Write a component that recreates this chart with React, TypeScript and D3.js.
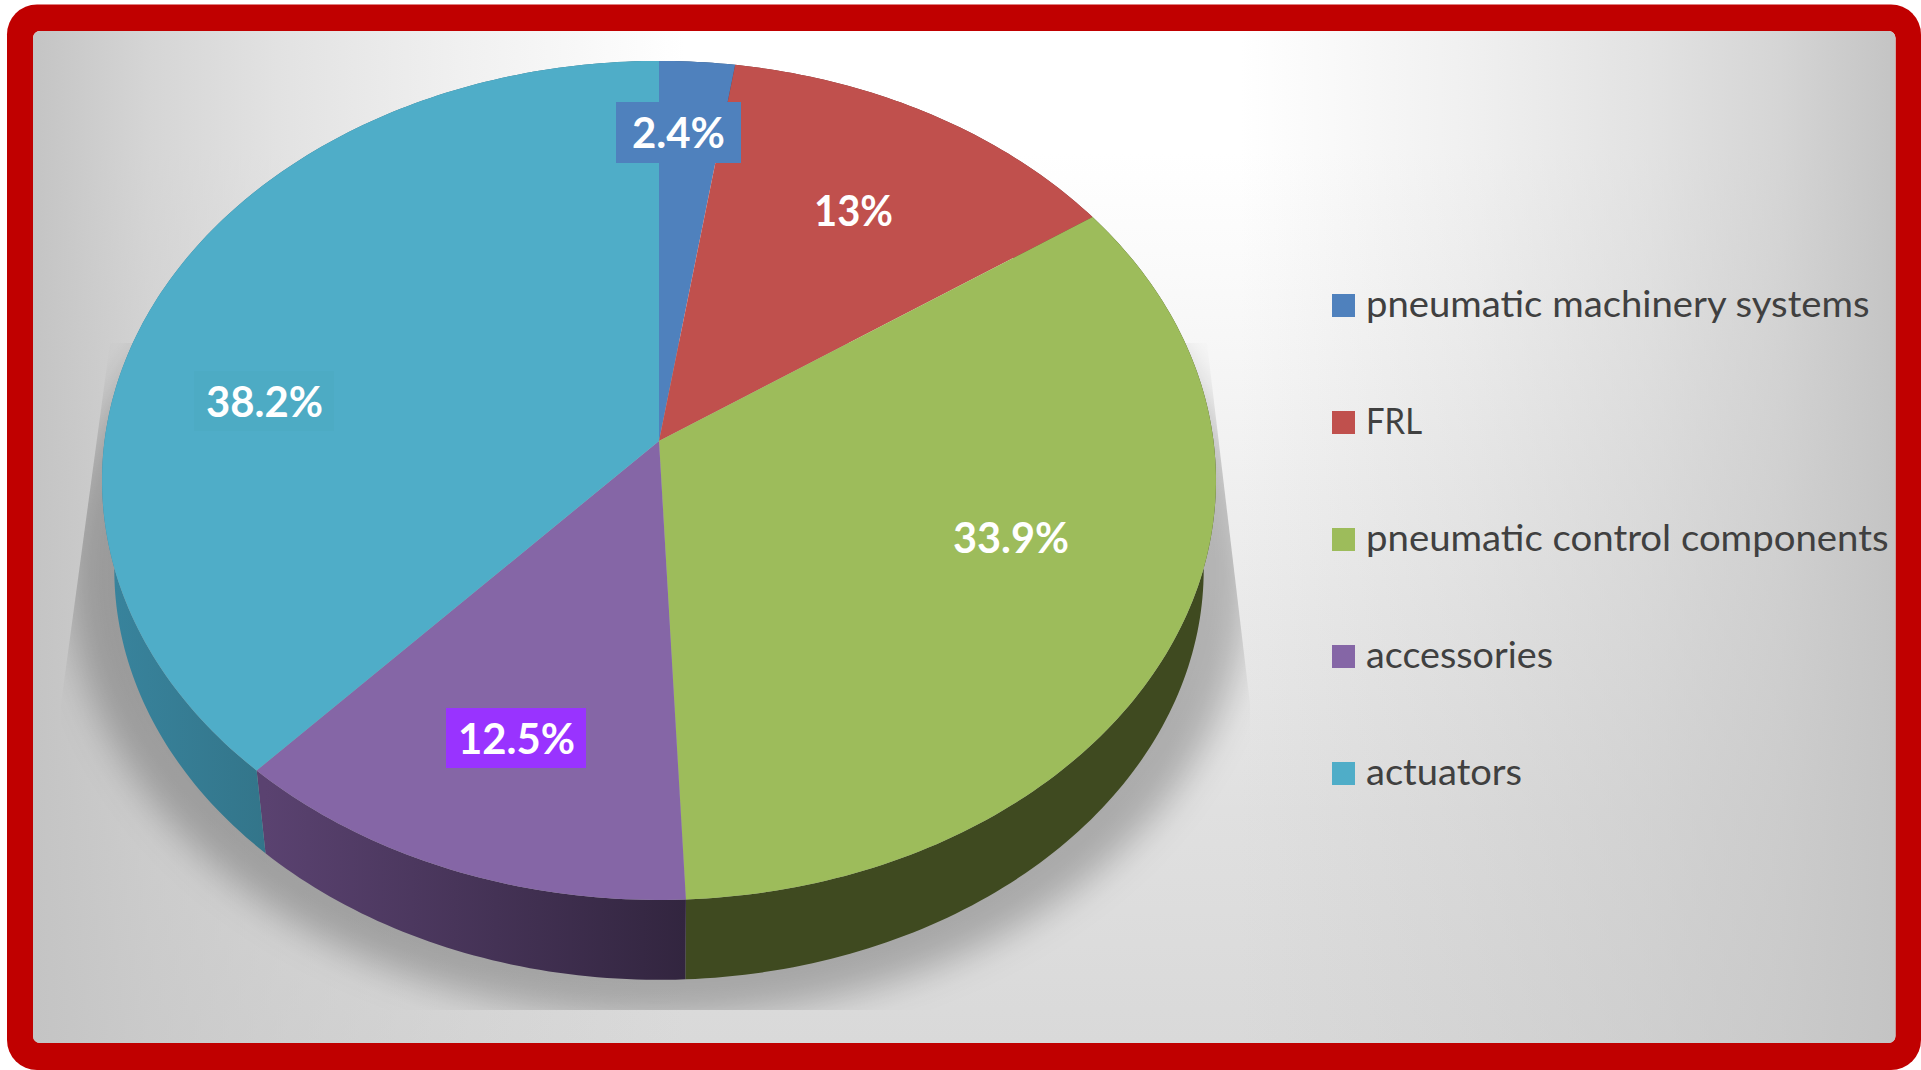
import React from "react";
import * as d3 from "d3";

const categories = ["pneumatic machinery systems", "FRL", "pneumatic control components", "accessories", "actuators"];
const shares = [2.4, 13, 33.9, 12.5, 38.2];
const labels = ["2.4%", "13%", "33.9%", "12.5%", "38.2%"];
const topColors = ["#4f81bd", "#c0504d", "#9dbc5b", "#8566a6", "#4fadc8"];
const wallDark = ["#2f4d71", "#73302e", "#3f4a20", "#32253f", "#33758a"];
const wallLight = ["#2f4d71", "#73302e", "#3f4a20", "#5a4270", "#38839c"];

// Layout
const W = 1921, H = 1070;
const apex = { x: 659, y: 441 };
const A = 554.5, B = 415.8, K = 0.094; // perspective projection of the disc
const rimScale = 0.978, rimDrop = 90;
const labelBoxes = [
  { x: 616, y: 102, w: 125, h: 61, fill: "#4f81bd", tx: 632, tw: 93, by: 148 },
  { x: 0, y: 0, w: 0, h: 0, fill: "none", tx: 814, tw: 79, by: 226 },
  { x: 0, y: 0, w: 0, h: 0, fill: "none", tx: 953, tw: 116, by: 553 },
  { x: 446, y: 708, w: 140, h: 60, fill: "#9933ff", tx: 458, tw: 117, by: 754 },
  { x: 194, y: 371, w: 140, h: 60, fill: "#4dabc4", tx: 206, tw: 117, by: 417 },
];
const legendTextWidths = [503.5, 56, 522.5, 187, 156];
const edgeStops = [
  [0, 1], [0.062, 0.71], [0.132, 0.49], [0.23, 0.25], [0.35, 0],
  [0.648, 0], [0.77, 0.25], [0.868, 0.49], [0.938, 0.71], [1, 1],
];

const project = (angle: number, scale = 1, drop = 0): [number, number] => {
  const u = Math.sin(angle), v = Math.cos(angle), d = 1 + K * v;
  return [apex.x + (scale * A * u) / d, apex.y + (-scale * B * v) / d + drop];
};

const arcs = d3.pie<number>().sort(null).value((d) => d)(shares);
const line = d3.line();
const sample = (a: d3.PieArcDatum<number>, scale = 1, drop = 0) => {
  const n = Math.max(4, Math.ceil((a.endAngle - a.startAngle) * 60));
  return d3.range(n + 1).map((i) => project(a.startAngle + ((a.endAngle - a.startAngle) * i) / n, scale, drop));
};
const topPath = (a: d3.PieArcDatum<number>) => line([[apex.x, apex.y], ...sample(a)]) + "Z";
const wallPath = (a: d3.PieArcDatum<number>) =>
  line([...sample(a), ...sample(a, rimScale, rimDrop).reverse()]) + "Z";
const disc = d3.range(0, 361, 2).map((deg) => project((deg * Math.PI) / 180, 1.06, 90));
const legendY = d3.scalePoint<string>().domain(categories).range([305.5, 773.5]);

export default function App() {
  return (
    <svg width={W} height={H} viewBox={`0 0 ${W} ${H}`} style={{ position: "absolute", left: 0, top: 0, display: "block" }}>
      <defs>
        <linearGradient id="bgY" gradientUnits="userSpaceOnUse" x1={0} x2={0} y1={31} y2={1043}>
          <stop offset="0" stopColor="#ffffff" />
          <stop offset="0.12" stopColor="#ffffff" />
          <stop offset="0.24" stopColor="#fafafa" />
          <stop offset="0.46" stopColor="#efefef" />
          <stop offset="0.77" stopColor="#e0e0e0" />
          <stop offset="1" stopColor="#d9d9d9" />
        </linearGradient>
        <linearGradient id="bgX" gradientUnits="userSpaceOnUse" x1={33} x2={1895} y1={0} y2={0}>
          {edgeStops.map(([o, a]) => (
            <stop key={o} offset={o} stopColor="#c4c4c4" stopOpacity={a} />
          ))}
        </linearGradient>
        <filter id="blur" x="-20%" y="-20%" width="140%" height="140%">
          <feGaussianBlur stdDeviation="18" />
        </filter>
        <clipPath id="shadowClip">
          <polygon points="110,343 1207,343 1250,704 1250,1010 61,1010 61,704" />
        </clipPath>
        {arcs.map((a, i) => {
          const [x1, x2] = d3.extent(sample(a, rimScale, rimDrop).filter((p) => p[1] > 480), (p) => p[0]);
          return (
            <linearGradient key={i} id={`wall${i}`} gradientUnits="userSpaceOnUse" x1={x1 ?? 0} x2={x2 ?? 1} y1={0} y2={0}>
              <stop offset="0" stopColor={wallLight[i]} />
              <stop offset="1" stopColor={wallDark[i]} />
            </linearGradient>
          );
        })}
      </defs>
      <rect x={7} y={4.5} width={1914} height={1065.5} rx={30} fill="#c00000" />
      <rect x={33} y={31} width={1862.5} height={1012} rx={7} fill="url(#bgY)" />
      <rect x={33} y={31} width={1862.5} height={1012} rx={7} fill="url(#bgX)" />
      <g clipPath="url(#shadowClip)">
        <path d={line(disc) + "Z"} fill="#000" fillOpacity={0.24} filter="url(#blur)" />
      </g>
      {arcs.map((a, i) => (
        <path key={i} d={wallPath(a)} fill={i === 2 ? wallDark[2] : `url(#wall${i})`} />
      ))}
      {arcs.map((a, i) => (
        <path key={i} d={topPath(a)} fill={topColors[i]} />
      ))}
      {labelBoxes.map((b, i) => (
        <g key={i}>
          {b.w > 0 && <rect x={b.x} y={b.y} width={b.w} height={b.h} fill={b.fill} />}
          <text x={b.tx} y={b.by} textLength={b.tw} lengthAdjust="spacingAndGlyphs"
            fontFamily="Lato, 'Open Sans', sans-serif" fontWeight={700} fontSize={42} fill="#fff">
            {labels[i]}
          </text>
        </g>
      ))}
      {categories.map((c, i) => {
        const y = legendY(c)!;
        return (
          <g key={c}>
            <rect x={1332} y={y - 11.5} width={23} height={23} fill={topColors[i]} />
            <text x={1366} y={y + 11} textLength={legendTextWidths[i]} lengthAdjust="spacingAndGlyphs"
              fontFamily="Lato, 'Open Sans', sans-serif" fontSize={36} fill="#404040">
              {c}
            </text>
          </g>
        );
      })}
    </svg>
  );
}
